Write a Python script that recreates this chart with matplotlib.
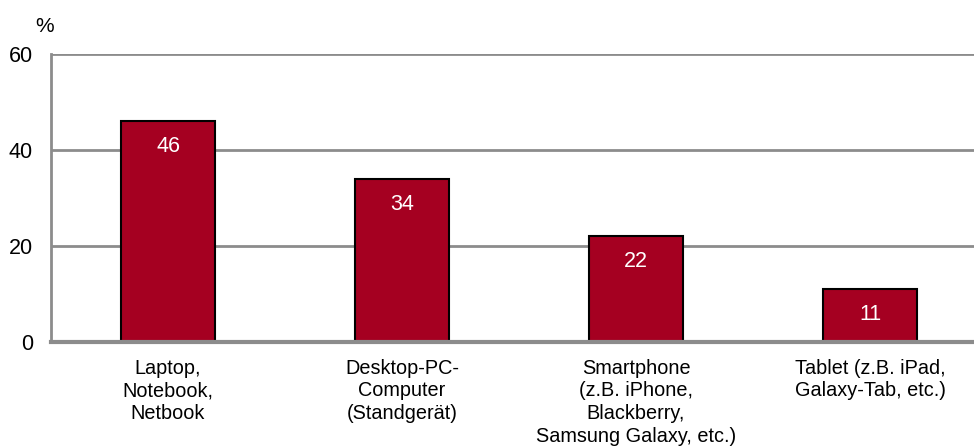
import matplotlib.pyplot as plt

plt.rcParams["font.family"] = ["Liberation Sans", "DejaVu Sans"]

categories = [
    "Laptop,\nNotebook,\nNetbook",
    "Desktop-PC-\nComputer\n(Standgerät)",
    "Smartphone\n(z.B. iPhone,\nBlackberry,\nSamsung Galaxy, etc.)",
    "Tablet (z.B. iPad,\nGalaxy-Tab, etc.)",
]
values = [46, 34, 22, 11]
y_ticks = [0, 20, 40, 60]

BAR_COLOR = "#A50021"
GRID_COLOR = "#8C8C8C"

fig = plt.figure(figsize=(9.74, 4.48), dpi=100)
ax = fig.add_axes([0.0524, 0.2366, 0.961, 0.643])

x = range(len(values))
bars = ax.bar(x, values, width=0.405, color=BAR_COLOR, edgecolor="black",
              linewidth=1.5, zorder=3)

# value labels sit inside the bar, just under its top edge
for bar, v in zip(bars, values):
    ax.text(bar.get_x() + bar.get_width() / 2, v - 5.3, str(v),
            ha="center", va="center", color="white", fontsize=15.5, zorder=4)

ax.set_xlim(-0.5, 3.5)
ax.set_ylim(0, 60)
ax.set_yticks(y_ticks)
ax.set_yticklabels([str(t) for t in y_ticks], fontsize=15.5)
ax.set_xticks(list(x))
ax.set_xticklabels(categories, fontsize=14.3, linespacing=1.25)
ax.tick_params(axis="y", length=0, pad=13)
ax.tick_params(axis="x", length=0, pad=12)

ax.yaxis.grid(True, color=GRID_COLOR, linewidth=2, zorder=0)
ax.set_axisbelow(True)

for side in ["top", "right"]:
    ax.spines[side].set_visible(False)
ax.spines["left"].set_color(GRID_COLOR)
ax.spines["left"].set_linewidth(2)
ax.spines["bottom"].set_color(GRID_COLOR)
ax.spines["bottom"].set_linewidth(3)
ax.spines["bottom"].set_zorder(5)

fig.text(45 / 974, 1 - 26 / 448, "%", ha="center", va="center", fontsize=15)

fig.savefig("out.png", dpi=100)
